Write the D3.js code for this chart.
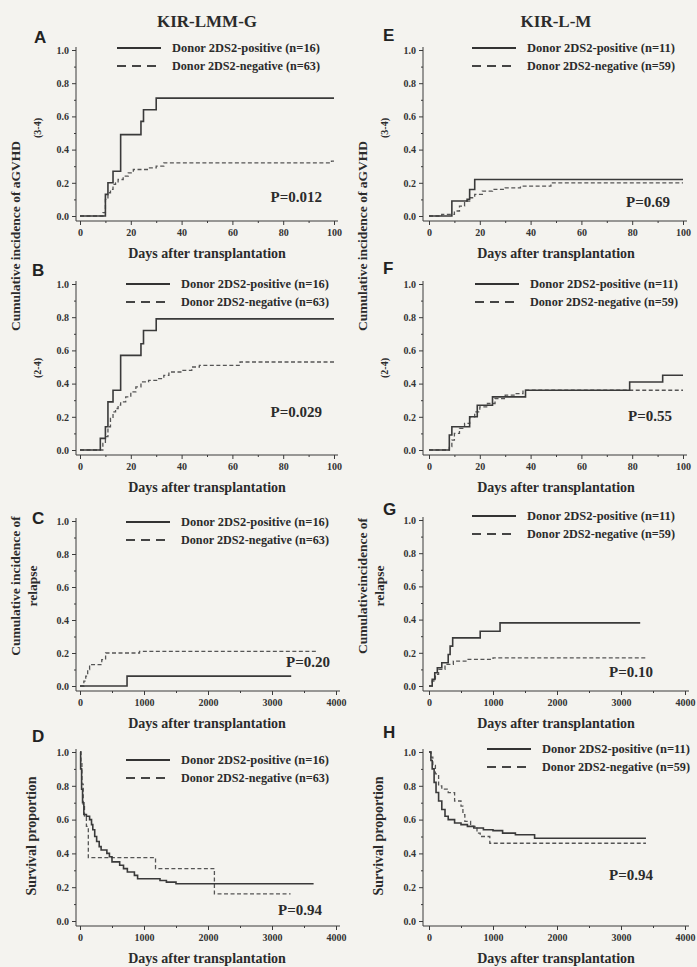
<!DOCTYPE html>
<html lang="en">
<head>
<meta charset="utf-8">
<title>KIR 2DS2 curves</title>
<script src="https://d3js.org/d3.v7.min.js"></script>
<style>
body { margin: 0; background: #f4f3ef; }
svg { display: block; }
.serif { font-family: "Liberation Serif", "DejaVu Serif", serif; font-weight: bold; fill: #2b2b2b; }
.axis text { font-family: "Liberation Serif", "DejaVu Serif", serif; font-weight: bold; font-size: 10px; fill: #333; }
.axis line, .axis-line { stroke: #3a3a3a; stroke-width: 1; }
.letter { font-family: "Liberation Sans", Arial, sans-serif; font-weight: bold; font-size: 17px; fill: #222; }
</style>
</head>
<body>
<div id="container"></div>
<script>
// step points [day, value]; the last point is the end of follow-up
var aPos = [[0,0],[10,0.13],[11,0.2],[13,0.27],[16,0.49],[24,0.57],[25,0.64],[30,0.71],[100,0.71]];
var aNeg = [[0,0],[9,0.02],[10,0.1],[11,0.14],[12,0.16],[13,0.19],[14,0.2],[15,0.22],[17,0.24],[19,0.26],[21,0.28],[27,0.29],[30,0.3],[33,0.32],[99,0.33],[100,0.33]];
var bPos = [[0,0],[8,0.07],[10,0.14],[11,0.29],[13,0.36],[16,0.57],[24,0.64],[25,0.72],[30,0.79],[100,0.79]];
var bNeg = [[0,0],[9,0.04],[10,0.08],[11,0.14],[12,0.19],[13,0.23],[14,0.25],[15,0.27],[16,0.29],[18,0.32],[20,0.35],[22,0.38],[24,0.41],[27,0.42],[31,0.43],[33,0.45],[35,0.47],[40,0.48],[44,0.5],[47,0.51],[63,0.53],[100,0.53]];
var cPos = [[0,0],[735,0.06],[3300,0.06]];
var cNeg = [[0,0],[60,0.03],[90,0.06],[120,0.1],[150,0.13],[340,0.16],[400,0.2],[930,0.21],[3700,0.21]];
var dPos = [[0,1],[10,0.9],[25,0.78],[40,0.7],[60,0.63],[100,0.62],[150,0.6],[180,0.57],[200,0.54],[230,0.5],[260,0.47],[300,0.44],[330,0.42],[420,0.4],[460,0.38],[500,0.35],[620,0.33],[680,0.31],[740,0.29],[850,0.27],[900,0.25],[1250,0.24],[1350,0.23],[1500,0.22],[3650,0.22]];
var dNeg = [[0,1],[15,0.94],[30,0.81],[50,0.69],[70,0.62],[100,0.56],[130,0.375],[1180,0.31],[2100,0.16],[3290,0.16]];
var ePos = [[0,0],[9,0.09],[15,0.1],[16,0.16],[18,0.22],[100,0.22]];
var eNeg = [[0,0],[5,0.01],[10,0.03],[12,0.06],[14,0.09],[16,0.11],[18,0.13],[21,0.15],[25,0.16],[30,0.17],[36,0.18],[48,0.2],[100,0.2]];
var fPos = [[0,0],[8,0.09],[9,0.14],[16,0.2],[19,0.27],[25,0.32],[38,0.36],[79,0.41],[92,0.45],[100,0.45]];
var fNeg = [[0,0],[8,0.02],[9,0.06],[10,0.1],[12,0.13],[14,0.16],[16,0.2],[18,0.23],[20,0.26],[23,0.28],[26,0.31],[30,0.33],[34,0.34],[37,0.36],[100,0.36]];
var gPos = [[0,0],[50,0.04],[90,0.08],[130,0.11],[200,0.14],[300,0.19],[330,0.24],[370,0.29],[800,0.33],[1110,0.38],[3300,0.38]];
var gNeg = [[0,0],[50,0.03],[100,0.07],[150,0.1],[250,0.13],[380,0.15],[600,0.16],[1000,0.17],[3380,0.17]];
var hPos = [[0,1],[30,0.95],[50,0.9],[80,0.82],[110,0.76],[150,0.71],[200,0.66],[250,0.62],[300,0.6],[400,0.58],[500,0.57],[600,0.56],[700,0.55],[850,0.54],[1000,0.535],[1150,0.52],[1350,0.51],[1650,0.49],[3390,0.49]];
var hNeg = [[0,1],[30,0.97],[60,0.92],[100,0.87],[150,0.8],[200,0.78],[300,0.76],[400,0.71],[500,0.68],[530,0.63],[560,0.59],[650,0.56],[750,0.52],[800,0.5],[950,0.46],[3390,0.46]];

var legendLeft = ["Donor 2DS2-positive (n=16)", "Donor 2DS2-negative (n=63)"];
var legendRight = ["Donor 2DS2-positive (n=11)", "Donor 2DS2-negative (n=59)"];
var yTicks = [0, 0.2, 0.4, 0.6, 0.8, 1.0];
var yMinor = [0.1, 0.3, 0.5, 0.7, 0.9];
var shortTicks = [0, 20, 40, 60, 80, 100];
var shortMinor = [10, 30, 50, 70, 90];
var longTicks = [0, 1000, 2000, 3000, 4000];
var longMinor = [500, 1500, 2500, 3500];
var titles = ["KIR-LMM-G", "KIR-L-M"];
var xLabel = "Days after transplantation";

var w = 697, h = 967;
var svg = d3.select("#container").append("svg")
  .attr("width", w).attr("height", h)
  .style("background-color", "#f4f3ef");

var cols = [
  {axisX: 76, x0: 80, x1: 334},
  {axisX: 423, x0: 429, x1: 683}
];

var panels = [
  {L:"A", c:0, top:50,  bot:216, max:100,  pos:aPos, neg:aNeg, p:"P=0.012", px:322, py:202, lx:117, ly:48, lab:[34,43]},
  {L:"B", c:0, top:284, bot:450, max:100,  pos:bPos, neg:bNeg, p:"P=0.029", px:322, py:417, lx:126, ly:284, lab:[32,276]},
  {L:"C", c:0, top:521, bot:686, max:4000, pos:cPos, neg:cNeg, p:"P=0.20",  px:330, py:667, lx:126, ly:522, lab:[32,524]},
  {L:"D", c:0, top:752, bot:921, max:4000, pos:dPos, neg:dNeg, p:"P=0.94",  px:322, py:915, lx:126, ly:760, lab:[32,742]},
  {L:"E", c:1, top:50,  bot:216, max:100,  pos:ePos, neg:eNeg, p:"P=0.69",  px:670, py:207, lx:472, ly:48, lab:[383,41]},
  {L:"F", c:1, top:284, bot:450, max:100,  pos:fPos, neg:fNeg, p:"P=0.55",  px:672, py:421, lx:475, ly:284, lab:[383,274]},
  {L:"G", c:1, top:520, bot:686, max:4000, pos:gPos, neg:gNeg, p:"P=0.10",  px:653, py:677, lx:472, ly:516, lab:[383,515]},
  {L:"H", c:1, top:752, bot:921, max:4000, pos:hPos, neg:hNeg, p:"P=0.94",  px:653, py:880, lx:487, ly:749, lab:[383,738]}
];

panels.forEach(function(pn) {
  var col = cols[pn.c];
  var x1 = pn.max === 100 ? col.x1 : col.x1 + 2;
  var x = d3.scaleLinear().domain([0, pn.max]).range([col.x0, x1]);
  var y = d3.scaleLinear().domain([0, 1]).range([pn.bot, pn.top]);
  var g = svg.append("g");
  var axY = pn.bot + 5;

  // axis lines
  g.append("line").attr("class", "axis-line")
    .attr("x1", col.axisX).attr("x2", col.axisX).attr("y1", pn.top - 3).attr("y2", axY);
  g.append("line").attr("class", "axis-line")
    .attr("x1", col.axisX).attr("x2", x1 + 4).attr("y1", axY).attr("y2", axY);

  g.append("g").attr("class", "axis").attr("transform", "translate(" + col.axisX + ",0)")
    .call(d3.axisLeft(y).tickValues(yTicks).tickSize(4).tickSizeOuter(0).tickFormat(d3.format(".1f")))
    .selectAll("text").attr("x", -7);
  g.append("g").attr("class", "axis").attr("transform", "translate(" + col.axisX + ",0)")
    .call(d3.axisLeft(y).tickValues(yMinor).tickSize(2).tickSizeOuter(0).tickFormat(""));
  var xt = pn.max === 100 ? shortTicks : longTicks;
  var xm = pn.max === 100 ? shortMinor : longMinor;
  g.append("g").attr("class", "axis").attr("transform", "translate(0," + axY + ")")
    .call(d3.axisBottom(x).tickValues(xt).tickSize(4).tickSizeOuter(0).tickFormat(d3.format("d")))
    .selectAll("text").attr("y", 8);
  g.append("g").attr("class", "axis").attr("transform", "translate(0," + axY + ")")
    .call(d3.axisBottom(x).tickValues(xm).tickSize(2).tickSizeOuter(0).tickFormat(""));
  g.selectAll(".axis path.domain").remove();

  var line = d3.line().curve(d3.curveStepAfter)
    .x(function(d) { return x(d[0]); })
    .y(function(d) { return y(d[1]); });

  g.append("path").datum(pn.neg).attr("d", line)
    .attr("fill", "none").attr("stroke", "#555").attr("stroke-width", 1.3)
    .attr("stroke-dasharray", "4,2.5");
  g.append("path").datum(pn.pos).attr("d", line)
    .attr("fill", "none").attr("stroke", "#3a3a3a").attr("stroke-width", 1.6);

  // legend
  var leg = pn.c === 0 ? legendLeft : legendRight;
  g.append("line").attr("x1", pn.lx).attr("x2", pn.lx + 44).attr("y1", pn.ly).attr("y2", pn.ly)
    .attr("stroke", "#333").attr("stroke-width", 2);
  g.append("line").attr("x1", pn.lx).attr("x2", pn.lx + 44).attr("y1", pn.ly + 18).attr("y2", pn.ly + 18)
    .attr("stroke", "#444").attr("stroke-width", 2).attr("stroke-dasharray", "9,6");
  leg.forEach(function(t, i) {
    g.append("text").attr("class", "serif")
      .attr("x", pn.lx + 55).attr("y", pn.ly + i * 18 + 4)
      .attr("font-size", 11.5).attr("textLength", 148).attr("lengthAdjust", "spacingAndGlyphs")
      .text(t);
  });

  g.append("text").attr("class", "serif").attr("font-size", 15)
    .attr("x", pn.px).attr("y", pn.py).attr("text-anchor", "end").text(pn.p);

  g.append("text").attr("class", "letter").attr("x", pn.lab[0]).attr("y", pn.lab[1]).text(pn.L);

  g.append("text").attr("class", "serif").attr("font-size", 14)
    .attr("x", (col.x0 + col.x1) / 2).attr("y", pn.bot + 42).attr("text-anchor", "middle").text(xLabel);
});

// column titles
cols.forEach(function(col, i) {
  svg.append("text").attr("class", "serif").attr("font-size", 17)
    .attr("x", (col.x0 + col.x1) / 2).attr("y", 27).attr("text-anchor", "middle").text(titles[i]);
});

// y axis titles
function vText(x, y, t, size) {
  svg.append("text").attr("class", "serif").attr("font-size", size)
    .attr("transform", "translate(" + x + "," + y + ") rotate(-90)")
    .attr("text-anchor", "middle").text(t);
}
[0, 1].forEach(function(i) {
  var off = i === 0 ? 0 : 347;
  vText(20 + off, 236, "Cumulative incidence of aGVHD", 13.5);
  vText(41 + off, 128, "(3-4)", 10);
  vText(41 + off, 368, "(2-4)", 10);
  vText(20 + off, 586, i === 0 ? "Cumulative incidence of" : "Cumulativeincidence of", 13.5);
  vText(37 + off, 586, "relapse", 13.5);
  vText(36 + off, 836, "Survival proportion", 14);
});
</script>
</body>
</html>
